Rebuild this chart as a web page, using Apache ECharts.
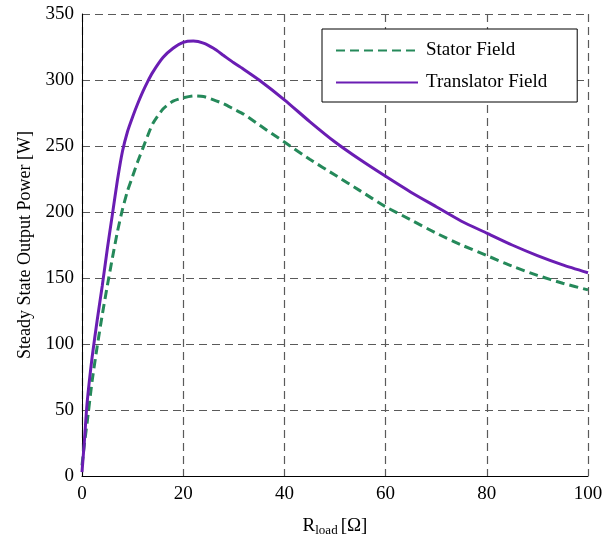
<!DOCTYPE html>
<html>
<head>
<meta charset="utf-8">
<script src="https://cdn.jsdelivr.net/npm/echarts@6/dist/echarts.min.js"></script>
<style>
  html, body { margin: 0; padding: 0; background: #fff; }
  #main { width: 615px; height: 546px; }
</style>
</head>
<body>
<div id="main"></div>
<script>
// load resistance values [Ohm]
var rLoad = [0, 0.5, 1, 2, 3, 4, 5, 6, 7, 8, 9, 10, 11, 12, 13, 14, 16, 18, 20, 22, 24, 26, 28, 30,
             32, 35, 40, 45, 50, 55, 60, 65, 70, 75, 80, 85, 90, 95, 100];
// output power [W]
var statorField = [8, 25, 40, 72, 98, 122, 144, 165, 185, 202, 216, 227, 238, 248, 258, 267, 278, 284, 286.5, 288, 287.5, 285, 282, 278,
                   274, 266, 253, 240, 228, 216, 204, 194, 184, 175, 167, 159, 152, 146, 141];
var translatorField = [3, 28, 55, 90, 118, 144, 172, 198, 224, 246, 261, 272, 282, 291, 299, 306, 317, 324, 328.5, 329.5, 328, 324, 318.5, 313,
                       308, 300, 285, 268.5, 253, 239.5, 227, 215, 204, 193, 184, 175, 167, 160, 154];
var xTicks = [0, 20, 40, 60, 80, 100];
var yTicks = [0, 50, 100, 150, 200, 250, 300, 350];

function pairs(ys) {
    return rLoad.map(function (r, i) { return [r, ys[i]]; });
}

var font = 'Liberation Serif';
var gridLine = { show: true, lineStyle: { color: '#5a5a5a', type: [8, 5], width: 1.2 } };
var myChart = echarts.init(document.getElementById('main'));

myChart.setOption({
    animation: false,
    textStyle: { fontFamily: font, color: '#000' },
    grid: { left: 82, right: 27, top: 14, bottom: 70 },
    legend: {
        orient: 'vertical',
        left: 322,
        top: 29,
        padding: [12, 30, 10, 13],
        itemWidth: 82,
        itemHeight: 14,
        itemGap: 13,
        backgroundColor: '#fff',
        borderColor: '#000',
        borderWidth: 1,
        itemStyle: { opacity: 0 },
        textStyle: { fontFamily: font, fontSize: 19, color: '#000', padding: [0, 0, 0, 3] },
        data: ['Stator Field', 'Translator Field']
    },
    xAxis: {
        type: 'value',
        min: xTicks[0], max: xTicks[xTicks.length - 1], interval: 20,
        name: '{r|R}{s|load} {r|[Ω]}',
        nameLocation: 'middle',
        nameGap: 40,
        nameTextStyle: {
            rich: {
                r: { fontFamily: font, fontSize: 19, color: '#000' },
                s: { fontFamily: font, fontSize: 13, color: '#000', verticalAlign: 'bottom', padding: [8, 0, 0, 0] }
            }
        },
        axisLine: { lineStyle: { color: '#000', width: 1 } },
        axisTick: { show: false },
        axisLabel: { fontSize: 19, color: '#000', margin: 9 },
        splitLine: gridLine
    },
    yAxis: {
        type: 'value',
        min: yTicks[0], max: yTicks[yTicks.length - 1], interval: 50,
        name: 'Steady State Output Power [W]',
        nameLocation: 'middle',
        nameGap: 48,
        nameTextStyle: { fontFamily: font, fontSize: 18, color: '#000' },
        axisLine: { show: true, lineStyle: { color: '#000', width: 1 } },
        axisTick: { show: false },
        axisLabel: { fontSize: 19, color: '#000', margin: 8 },
        splitLine: gridLine
    },
    series: [
        {
            name: 'Stator Field',
            type: 'line',
            data: pairs(statorField),
            showSymbol: false,
            smooth: 0.2,
            color: '#25895a',
            lineStyle: { width: 3, type: [9, 5], color: '#25895a' },
            z: 3
        },
        {
            name: 'Translator Field',
            type: 'line',
            data: pairs(translatorField),
            showSymbol: false,
            smooth: 0.2,
            color: '#6a1db3',
            lineStyle: { width: 3, color: '#6a1db3' },
            z: 4
        }
    ]
});
</script>
</body>
</html>
